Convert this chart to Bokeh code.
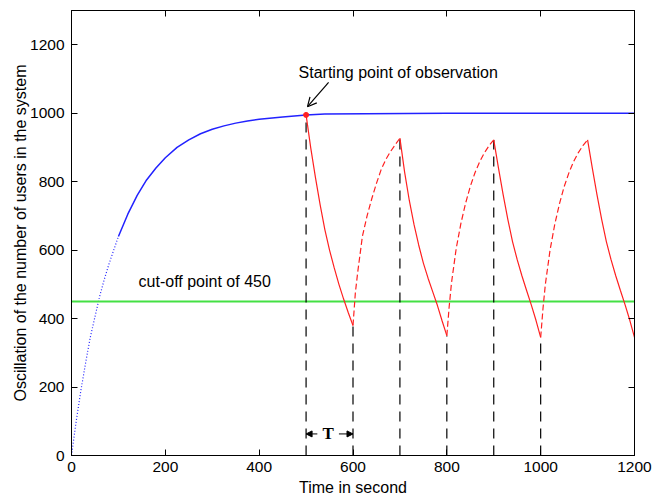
from bokeh.plotting import figure
from bokeh.models import (LinearAxis, FixedTicker, Range1d, Arrow, OpenHead, NormalHead, Label,
                          CustomJSTickFormatter)
from bokeh.embed import file_html
from bokeh.resources import INLINE

# ---- data ----
x_ticks = [0, 200, 400, 600, 800, 1000, 1200]
y_ticks = [0, 200, 400, 600, 800, 1000, 1200]

# growth of the number of users (blue); first part drawn dotted
blue_t = [0, 10, 20, 30, 40, 50, 60, 70, 80, 90, 100,
          120, 140, 160, 180, 200, 225, 250, 275, 300, 325, 350, 375, 400, 450, 500, 540, 800, 1200]
blue_y = [0, 100, 190, 270, 345, 405, 465, 515, 560, 600, 640,
          705, 760, 805, 840, 870, 900, 922, 940, 953, 963, 971, 977, 982, 989, 995, 998, 1000, 1000]
blue_dotted_end = 100

cutoff = 450

# oscillation after the starting point (red): decays (solid) and rises (dashed)
decay_starts = [500, 700, 900, 1100]
decay_dt = [0, 10, 20, 30, 40, 50, 60, 70, 80, 90, 100]
decay_values = [
    [995, 898, 812, 732, 660, 600, 548, 500, 457, 417, 380],
    [927, 828, 745, 675, 615, 562, 518, 478, 438, 393, 350],
    [922, 840, 762, 690, 625, 572, 525, 482, 440, 395, 345],
    [922, 840, 762, 690, 625, 572, 525, 482, 440, 395, 345],
]
rise_starts = [600, 800, 1000]
rise_dt = [0, 5, 10, 20, 30, 40, 50, 60, 70, 80, 90, 100]
rise_values = [
    [380, 475, 535, 640, 700, 750, 795, 835, 865, 888, 908, 927],
    [350, 435, 505, 605, 678, 737, 786, 826, 858, 884, 905, 922],
    [345, 430, 500, 600, 675, 735, 785, 825, 858, 884, 905, 922],
]

# vertical dashed markers at each switch time
marker_t = [500, 600, 700, 800, 900, 1000]
marker_top = [995, 380, 927, 350, 922, 345]

start_point = (500, 995)
period_start, period_end = 500, 600

FONT = "Liberation Sans"

p = figure(width=656, height=500, x_range=Range1d(0, 1200), y_range=Range1d(0, 1300),
           output_backend="svg", toolbar_location=None,
           min_border_left=71, min_border_right=22, min_border_top=10, min_border_bottom=45)
p.grid.visible = False
p.outline_line_color = "black"
p.background_fill_color = "white"
p.border_fill_color = "white"

for ax in (p.xaxis[0], p.yaxis[0]):
    ax.major_tick_in = 6
    ax.major_tick_out = 0
    ax.minor_tick_line_color = None
    ax.axis_line_color = "black"
    ax.major_tick_line_color = "black"
    ax.major_label_text_font = FONT
    ax.major_label_text_font_size = "15.5px"
    ax.major_label_text_color = "black"
    ax.axis_label_text_font = FONT
    ax.axis_label_text_font_size = "16px"
    ax.axis_label_text_font_style = "normal"
    ax.axis_label_text_color = "black"
p.xaxis.ticker = FixedTicker(ticks=x_ticks)
p.yaxis.ticker = FixedTicker(ticks=y_ticks)
p.xaxis.axis_label = "Time in second"
p.yaxis.axis_label = "Oscillation of the number of users in the system"
p.xaxis.major_label_standoff = 6
p.yaxis.major_label_standoff = 7
p.xaxis.axis_label_standoff = 4
p.yaxis.axis_label_standoff = -2

blank = CustomJSTickFormatter(code="return ''")
for side, tk in (("above", x_ticks), ("right", y_ticks)):
    ax = LinearAxis(ticker=FixedTicker(ticks=tk), formatter=blank)
    ax.major_tick_in = 6
    ax.major_tick_out = 0
    ax.minor_tick_line_color = None
    ax.major_label_standoff = 0
    ax.axis_line_color = "black"
    ax.major_tick_line_color = "black"
    p.add_layout(ax, side)

# blue growth curve
n_dot = blue_t.index(blue_dotted_end) + 1
p.line(blue_t[:n_dot], blue_y[:n_dot], line_color="#2222ff", line_width=1.2, line_dash="1 2")
p.line(blue_t[n_dot - 1:], blue_y[n_dot - 1:], line_color="#2222ff", line_width=1.5)

# green cut-off line
p.line([0, 1200], [cutoff, cutoff], line_color="#44e044", line_width=2)

# black dashed verticals
p.segment(x0=marker_t, y0=[0] * len(marker_t), x1=marker_t, y1=marker_top,
          line_color="black", line_width=1.2, line_dash="10 7")

# red oscillation
dec_xs = [[s + d for d in decay_dt] for s in decay_starts]
p.multi_line(dec_xs, decay_values, line_color="#ff2020", line_width=1.2)
rise_xs = [[s + d for d in rise_dt] for s in rise_starts]
p.multi_line(rise_xs, rise_values, line_color="#ff2020", line_width=1.2, line_dash="6 3")

p.scatter([start_point[0]], [start_point[1]], size=5, color="#ff2020")

# annotations
p.add_layout(Label(x=143, y=507, text="cut-off point of 450", text_font=FONT,
                   text_font_size="16px", text_baseline="middle", text_color="black"))
p.add_layout(Label(x=484, y=1118, text="Starting point of observation", text_font=FONT,
                   text_font_size="16px", text_baseline="middle", text_color="black"))
p.add_layout(Arrow(end=OpenHead(size=9, line_color="black", line_width=1.2),
                   x_start=548, y_start=1090, x_end=503, y_end=1019,
                   line_color="black", line_width=1.2))

p.add_layout(Arrow(end=NormalHead(size=6, fill_color="black", line_color="black"),
                   x_start=524, y_start=63, x_end=period_start, y_end=63,
                   line_color="black", line_width=1))
p.add_layout(Arrow(end=NormalHead(size=6, fill_color="black", line_color="black"),
                   x_start=570, y_start=63, x_end=period_end, y_end=63,
                   line_color="black", line_width=1))
p.add_layout(Label(x=547, y=63, text="T", text_font="Liberation Serif", text_font_style="bold",
                   text_font_size="17px", text_align="center", text_baseline="middle",
                   text_color="black"))

open("out.html", "w").write(file_html(p, INLINE))
